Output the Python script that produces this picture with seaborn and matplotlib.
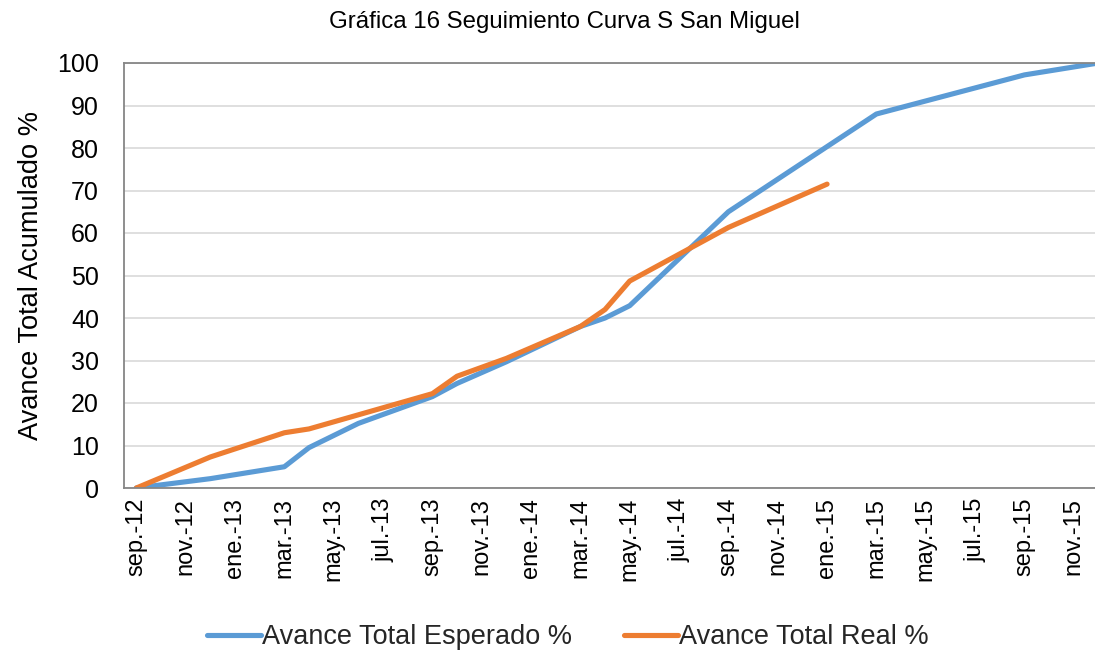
import matplotlib
matplotlib.use("Agg")
import matplotlib.pyplot as plt
import seaborn as sns
import pandas as pd
import numpy as np
from matplotlib.lines import Line2D

# ---- data ----
esperado_dates = ["2012-09", "2012-12", "2013-03", "2013-04", "2013-06", "2013-09",
                  "2013-10", "2013-12", "2014-03", "2014-04", "2014-05", "2014-09",
                  "2015-03", "2015-09", "2015-12"]
esperado_vals = [0, 2.2, 5.0, 9.5, 15.2, 21.5, 24.6, 29.7, 38.0, 40.0, 42.9, 65.0,
                 88.0, 97.2, 100.0]

real_dates = ["2012-09", "2012-12", "2013-03", "2013-04", "2013-09", "2013-10",
              "2013-12", "2014-03", "2014-04", "2014-05", "2014-09", "2015-01"]
real_vals = [0, 7.3, 13.0, 13.9, 22.2, 26.3, 30.5, 38.0, 42.0, 48.7, 61.3, 71.5]

tick_labels = ["sep.-12", "nov.-12", "ene.-13", "mar.-13", "may.-13", "jul.-13",
               "sep.-13", "nov.-13", "ene.-14", "mar.-14", "may.-14", "jul.-14",
               "sep.-14", "nov.-14", "ene.-15", "mar.-15", "may.-15", "jul.-15",
               "sep.-15", "nov.-15"]

series_names = ["Avance Total Esperado %", "Avance Total Real %"]
colors = ["#5B9BD5", "#ED7D31"]
title = "Gráfica 16 Seguimiento Curva S San Miguel"
ylabel = "Avance Total Acumulado %"

# ---- build frame ----
start = pd.Period("2012-09", freq="M")
def midx(d):
    return (pd.Period(d, freq="M") - start).n

df = pd.concat([
    pd.DataFrame({"mes": [midx(d) for d in esperado_dates], "valor": esperado_vals,
                  "serie": series_names[0]}),
    pd.DataFrame({"mes": [midx(d) for d in real_dates], "valor": real_vals,
                  "serie": series_names[1]}),
], ignore_index=True)

sns.set_theme(style="white")
plt.rcParams["font.family"] = ["Liberation Sans", "DejaVu Sans"]

fig = plt.figure(figsize=(10.95, 6.55), dpi=100)
ax = fig.add_axes([124/1095, 1-488/655, 1-124/1095, (488-63)/655])

sns.lineplot(data=df, x="mes", y="valor", hue="serie", palette=colors,
             hue_order=series_names, linewidth=3.7, ax=ax, legend=False,
             sort=False, solid_capstyle="round", solid_joinstyle="round")

ax.set_yticks(np.arange(0, 101, 10))
ax.tick_params(axis="y", length=0, labelsize=18, pad=18, colors="black")
ax.yaxis.grid(True, color="#d9d9d9", linewidth=1.2)
ax.xaxis.grid(False)
ax.set_axisbelow(True)

n_lab = len(tick_labels)
ax.set_xticks([2*k - 0.5 for k in range(n_lab + 1)])
ax.set_xticklabels([])
ax.tick_params(axis="x", which="major", length=5, width=1.2, color="#868686", direction="out")
ax.set_xticks([2*k for k in range(n_lab)], minor=True)
ax.set_xticklabels(tick_labels, minor=True, rotation=90, fontsize=17)
ax.tick_params(axis="x", which="minor", length=0, pad=7, labelcolor="black")

ax.set_ylim(0, 100)
ax.set_xlim(-0.5, (1095-136.3)/24.67)

for s in ["left", "bottom", "top"]:
    ax.spines[s].set_color("#868686")
    ax.spines[s].set_linewidth(1.3)
ax.spines["right"].set_visible(False)

ax.set_xlabel("")
ax.set_ylabel(ylabel, fontsize=19.6, color="black")
ax.yaxis.set_label_coords(-(124-44)/971, 0.50)

fig.text(564/1095, 1-22/655, title, ha="center", va="center", fontsize=17.3, color="black")

handles = [Line2D([0], [0], color=c, linewidth=3.7, solid_capstyle="round") for c in colors]
fig.legend(handles, series_names, loc="center", bbox_to_anchor=(568/1095, 1-637/655),
           ncol=2, frameon=False, fontsize=19.5, handlelength=2.0, handletextpad=0.05,
           columnspacing=1.9)

fig.savefig("out.png", dpi=100)
